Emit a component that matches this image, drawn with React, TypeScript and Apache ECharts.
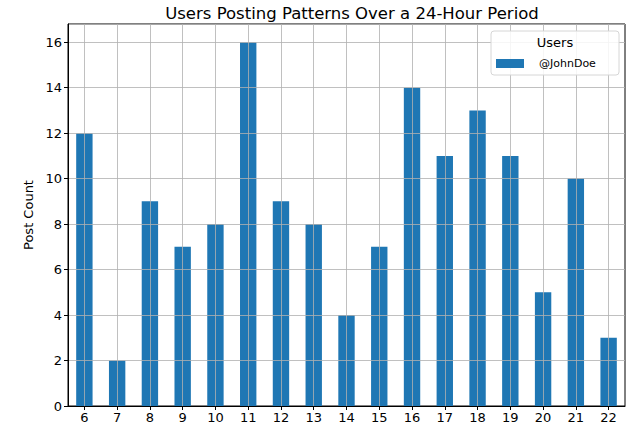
import React, { useEffect, useRef } from "react";
import * as echarts from "echarts";

const hours = ["6", "7", "8", "9", "10", "11", "12", "13", "14", "15", "16", "17", "18", "19", "20", "21", "22"];
const postCounts = [12, 2, 9, 7, 8, 16, 9, 8, 4, 7, 14, 11, 13, 11, 5, 10, 3];
const yTicks = [0, 2, 4, 6, 8, 10, 12, 14, 16];
const seriesName = "@JohnDoe";
const legendTitle = "Users";
const chartTitle = "Users Posting Patterns Over a 24-Hour Period";
const yLabel = "Post Count";

const FONT = "DejaVu Sans";
const GRID_COLOR = "rgba(176,176,176,0.8)";

export default function App() {
  const ref = useRef<HTMLDivElement>(null);
  useEffect(() => {
    if (!ref.current) return;
    const chart = echarts.init(ref.current, undefined, { renderer: "svg" });
    chart.setOption({
      animation: false,
      backgroundColor: "#fff",
      title: {
        text: chartTitle,
        left: 347,
        textAlign: "center",
        top: 0,
        textStyle: { fontFamily: FONT, fontSize: 16.5, fontWeight: "normal", color: "#000" },
      },
      grid: {
        left: 68,
        right: 11,
        top: 24,
        bottom: 20,
        show: true,
        borderColor: "#000",
        borderWidth: 1,
        backgroundColor: "transparent",
      },
      legend: {
        show: true,
        data: [seriesName],
        left: 491,
        top: 53,
        itemWidth: 28,
        itemHeight: 9,
        icon: "rect",
        textStyle: { fontFamily: FONT, fontSize: 11, color: "#000", padding: [0, 0, 0, 10] },
        z: 10,
      },
      graphic: [
        {
          type: "rect",
          shape: { x: 491, y: 31, width: 128, height: 44, r: 3 },
          style: { fill: "rgba(255,255,255,0.85)", stroke: "#d6d6d6", lineWidth: 1 },
          z: 9,
        },
        {
          type: "text",
          x: 555,
          y: 42,
          style: {
            text: legendTitle,
            fontFamily: FONT,
            fontSize: 13,
            fill: "#000",
            align: "center",
            verticalAlign: "middle",
          },
          z: 11,
        },
      ],
      xAxis: {
        type: "category",
        data: hours,
        z: 5,
        axisLine: { show: true, lineStyle: { color: "#000", width: 1 } },
        axisTick: { show: true, alignWithLabel: true, length: 4, lineStyle: { color: "#000" } },
        axisLabel: { fontFamily: FONT, fontSize: 13, color: "#000", margin: 5, interval: 0 },
        splitLine: { show: false },
      },
      yAxis: {
        type: "value",
        min: 0,
        max: 16.8,
        interval: 2,
        z: 5,
        name: yLabel,
        nameLocation: "middle",
        nameGap: 33,
        nameTextStyle: { fontFamily: FONT, fontSize: 13, color: "#000" },
        axisLine: { show: true, lineStyle: { color: "#000", width: 1 } },
        axisTick: { show: true, length: 4, lineStyle: { color: "#000" } },
        axisLabel: {
          fontFamily: FONT,
          fontSize: 13,
          color: "#000",
          margin: 6,
          formatter: (v: number) => (yTicks.includes(v) ? String(v) : ""),
          showMaxLabel: false,
        },
        splitLine: { show: true, lineStyle: { color: GRID_COLOR, width: 1 } },
      },
      series: [
        {
          name: seriesName,
          type: "bar",
          data: postCounts,
          barWidth: "50%",
          itemStyle: { color: "#1f77b4" },
          z: 2,
          markLine: {
            silent: true,
            symbol: "none",
            z: 4,
            label: { show: false },
            lineStyle: { color: GRID_COLOR, width: 1, type: "solid" },
            emphasis: { disabled: true },
            data: hours.map((h) => ({ xAxis: h })),
          },
        },
      ],
    });
    return () => chart.dispose();
  }, []);
  return <div ref={ref} style={{ width: 636, height: 426, position: "absolute", left: 0, top: 0 }} />;
}
